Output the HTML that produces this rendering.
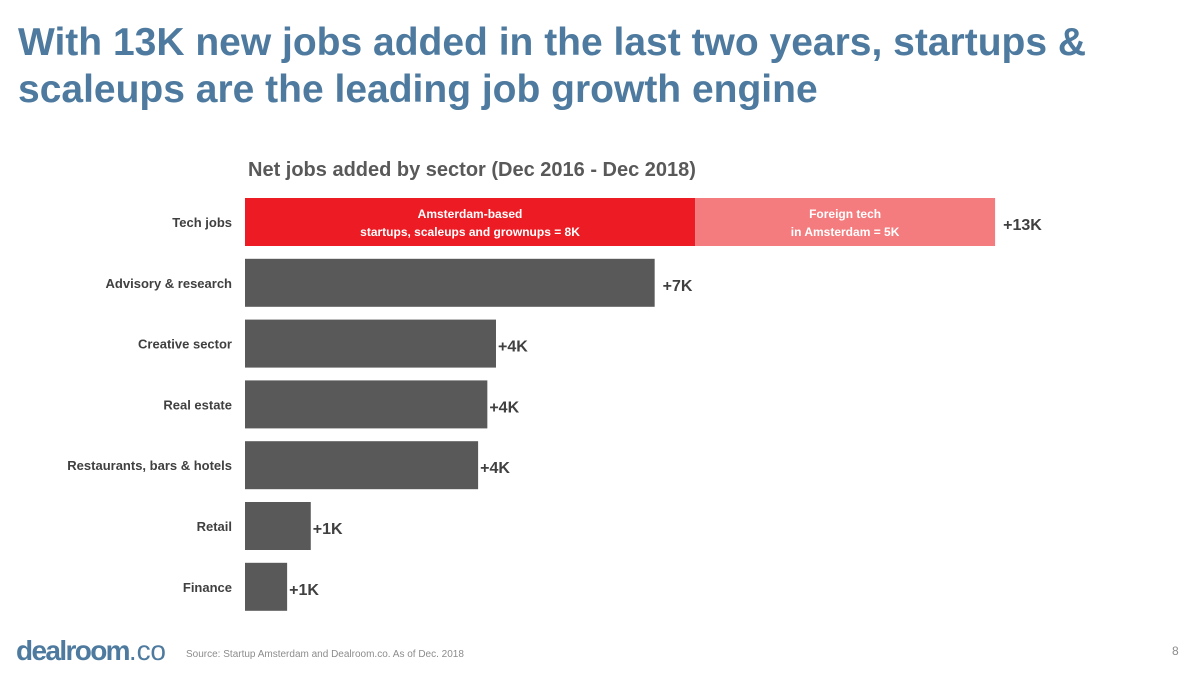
<!DOCTYPE html>
<html><head><meta charset="utf-8"><style>
body{margin:0;width:1200px;height:675px;background:#fff;overflow:hidden;font-family:"Liberation Sans",sans-serif;}
svg{position:absolute;left:0;top:0}
</style></head><body>
<svg id="c" width="1200" height="675">
<text x="18" y="55" font-size="39" font-weight="bold" fill="#4d7a9e">With 13K new jobs added in the last two years, startups &amp;</text>
<text x="18" y="102" font-size="39" font-weight="bold" fill="#4d7a9e">scaleups are the leading job growth engine</text>
<text x="248" y="176" font-size="20" font-weight="bold" fill="#595959">Net jobs added by sector (Dec 2016 - Dec 2018)</text>
<text x="16" y="660" font-size="28" fill="#4d7a9e" textLength="150"><tspan font-weight="bold" letter-spacing="-1.5">dealroom</tspan><tspan>.co</tspan></text>
<text x="186" y="657" font-size="10" fill="#8c8c8c">Source: Startup Amsterdam and Dealroom.co. As of Dec. 2018</text>
<text x="1172" y="655" font-size="12" fill="#8c8c8c">8</text>
</svg>
<script>
const categories=["Tech jobs","Advisory & research","Creative sector","Real estate","Restaurants, bars & hotels","Retail","Finance"];
const values=[7.8,7.1,4.35,4.2,4.04,1.14,0.73];
const techForeign=[5.2];
const labels=["+13K","+7K","+4K","+4K","+4K","+1K","+1K"];
const svg=document.getElementById('c');const NS='http://www.w3.org/2000/svg';
const x0=245,pxPerK=57.7,y0=198,pitch=60.8,bh=48;
const xs=v=>v*pxPerK;
function el(t,a,txt){const e=document.createElementNS(NS,t);for(const k in a)e.setAttribute(k,a[k]);if(txt)e.textContent=txt;svg.appendChild(e);return e;}
categories.forEach((c,i)=>{
 const y=y0+i*pitch;
 const t=el('text',{x:232,y:y+bh/2+5,'font-size':13,'font-weight':'bold',fill:'#404040','text-anchor':'end'},c);
 
 
 const w=xs(values[i]);
 const r=el('rect',{x:x0,y:y,width:w,height:bh,fill:i===0?'#ed1c24':'#595959'});
 
 
 let end=x0+w;
 if(i===0){
  const w2=xs(techForeign[0]);
  const r2=el('rect',{x:end,y:y,width:w2,height:bh,fill:'#f47c7e'});
  
  
  const a1=el('text',{x:x0+w/2,y:y+20,'font-size':12,'font-weight':'bold',fill:'#fff','text-anchor':'middle'},'Amsterdam-based');
  
  const a2=el('text',{x:x0+w/2,y:y+38,'font-size':12,'font-weight':'bold',fill:'#fff','text-anchor':'middle'},'startups, scaleups and grownups = 8K');
  
  const b1=el('text',{x:end+w2/2,y:y+20,'font-size':12,'font-weight':'bold',fill:'#fff','text-anchor':'middle'},'Foreign tech');
  
  const b2=el('text',{x:end+w2/2,y:y+38,'font-size':12,'font-weight':'bold',fill:'#fff','text-anchor':'middle'},'in Amsterdam = 5K');
  
  end+=w2;
 }
 const v=el('text',{x:end+(i<2?8:2),y:y+bh/2+8,'font-size':16,'font-weight':'bold',fill:'#404040'},labels[i]);
 
 
});
</script>
</body></html>
